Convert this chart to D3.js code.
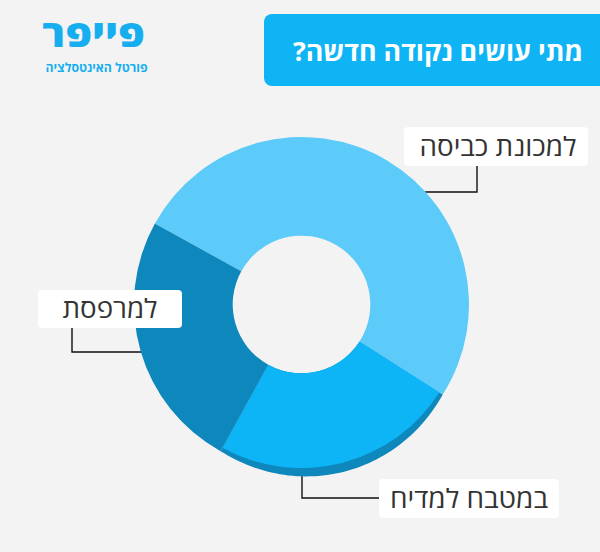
<!DOCTYPE html>
<html><head><meta charset="utf-8">
<script src="https://cdnjs.cloudflare.com/ajax/libs/d3/7.8.5/d3.min.js"></script>
<style>
html,body{margin:0;padding:0;background:#f3f3f3;}
svg{display:block;}
text{font-family:"Open Sans","Liberation Sans","DejaVu Sans",sans-serif;}
</style></head>
<body>
<svg id="chart" width="600" height="552"></svg>
<script>
// ---- data ----
const categories = ["למכונת כביסה", "במטבח למדיח", "למרפסת"];
const values = [51, 24, 25];
const colors = ["#5ccbf9", "#0db5f6", "#0e87bc"];
const titleText = "מתי עושים נקודה חדשה?";
const logoText = "פייפר";
const logoSub = "פורטל האינטסלציה";

// ---- layout ----
const W = 600, H = 552;
const cx = 301.5, cy = 304.5, R = 167.5, r0 = 68.8;
const svg = d3.select("#chart");
svg.append("rect").attr("width", W).attr("height", H).attr("fill", "#f3f3f3");

// logo
svg.append("text").attr("x", 93.5).attr("y", 47).attr("text-anchor", "middle")
  .attr("direction", "rtl").attr("font-size", 37).attr("font-weight", 900)
  .attr("textLength", 103).attr("lengthAdjust", "spacingAndGlyphs")
  .attr("fill", "#17aef0").text(logoText);
svg.append("text").attr("x", 96.5).attr("y", 71.5).attr("text-anchor", "middle")
  .attr("direction", "rtl").attr("font-size", 12.5).attr("font-weight", 700)
  .attr("textLength", 102).attr("lengthAdjust", "spacingAndGlyphs")
  .attr("fill", "#17aef0").text(logoSub);

// title box
svg.append("rect").attr("x", 264).attr("y", 14).attr("width", 360).attr("height", 72)
  .attr("rx", 8).attr("fill", "#0fb4f5");
svg.append("text").attr("x", 438).attr("y", 61).attr("text-anchor", "middle")
  .attr("direction", "rtl").attr("font-size", 26).attr("font-weight", 700)
  .attr("textLength", 290).attr("lengthAdjust", "spacingAndGlyphs")
  .attr("fill", "#ffffff").text(titleText);

// pie
const startDeg = -61.1;
const pie = d3.pie().sort(null).value(d => d)
  .startAngle(startDeg * Math.PI / 180).endAngle((startDeg + 360) * Math.PI / 180);
const arcs = pie(values);
const arcFull = d3.arc().innerRadius(r0).outerRadius(R);
const arcMid = d3.arc().innerRadius(r0).outerRadius(R - 4);

// label layout (boxes + leader elbows)
const labelBoxes = [
  {x: 404, y: 127, w: 184, h: 39, tx: 498, tw: 157, lineX: 477, elbowY: 192, side: "left"},
  {x: 379, y: 479, w: 180, h: 39, tx: 469, tw: 158, lineX: 302, elbowY: 498, side: "bottom"},
  {x: 38, y: 290, w: 144, h: 38, tx: 110, tw: 95, lineX: 72, elbowY: 352, side: "right"}
];

const gLines = svg.append("g").attr("fill", "none").attr("stroke", "#111").attr("stroke-width", 1.4);
labelBoxes.forEach((b, i) => {
  let pts;
  if (b.side === "left") {
    const dy = b.elbowY - cy;
    const ex = cx + Math.sqrt(R * R - dy * dy) - 2;
    pts = [[b.lineX, b.y + b.h], [b.lineX, b.elbowY], [ex, b.elbowY]];
  } else if (b.side === "right") {
    const dy = b.elbowY - cy;
    const ex = cx - Math.sqrt(R * R - dy * dy) + 2;
    pts = [[b.lineX, b.y + b.h], [b.lineX, b.elbowY], [ex, b.elbowY]];
  } else {
    pts = [[b.lineX, cy + R], [b.lineX, b.elbowY], [b.x, b.elbowY]];
  }
  gLines.append("path").attr("d", d3.line()(pts));
});

const g = svg.append("g").attr("transform", `translate(${cx},${cy})`);
// tapered shadow under the middle slice
const m = arcs[1];
const shadowAngles = d3.range(0, 61).map(k => m.startAngle + (m.endAngle - m.startAngle) * k / 60);
const shadow = d3.areaRadial()
  .angle(a => a)
  .innerRadius(r0)
  .outerRadius(a => R + 5 * Math.sin(Math.PI * (a - m.startAngle) / (m.endAngle - m.startAngle)));
g.append("path").attr("d", shadow(shadowAngles)).attr("fill", colors[2]);

g.selectAll("path.slice").data(arcs).join("path").attr("class", "slice")
  .attr("d", (d, i) => i === 1 ? arcMid(d) : arcFull(d))
  .attr("fill", (d, i) => colors[i]);

// label boxes
labelBoxes.forEach((b, i) => {
  svg.append("rect").attr("x", b.x).attr("y", b.y).attr("width", b.w).attr("height", b.h)
    .attr("rx", 4).attr("fill", "#ffffff");
  svg.append("text").attr("x", b.tx).attr("y", b.y + b.h / 2 + 9)
    .attr("text-anchor", "middle").attr("direction", "rtl")
    .attr("textLength", b.tw).attr("lengthAdjust", "spacingAndGlyphs")
    .attr("font-size", 26).attr("fill", "#333333").text(categories[i]);
});
</script>
</body></html>
